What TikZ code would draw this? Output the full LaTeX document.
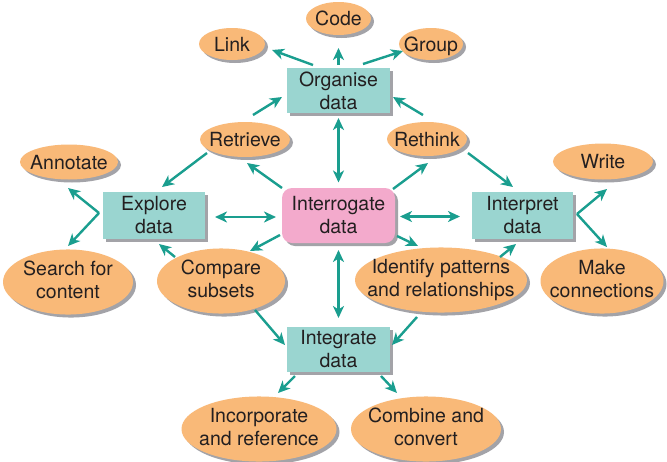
\documentclass[tikz,border=0pt]{standalone}
\usepackage{fontspec}
\setmainfont{TeX Gyre Heros}
\usetikzlibrary{shapes.geometric,shadows,arrows.meta}

\definecolor{ovalfill}{HTML}{F9B978}
\definecolor{boxfill}{HTML}{9AD5D0}
\definecolor{hubfill}{HTML}{F3AACC}
\definecolor{arrowteal}{HTML}{1A9E8F}
\definecolor{inkgray}{HTML}{231F20}
\definecolor{shadowgray}{HTML}{A3A3A8}

% centred lines inside an ellipse whose size is set by hand
\newcommand\ovallines[1]{\makebox[0pt]{\begin{tabular}{@{}c@{}}#1\end{tabular}}}
\newcommand\ovalword[1]{\makebox[0pt]{\raisebox{-0.36em}[0pt][0pt]{#1}}}

\begin{document}
\begin{tikzpicture}[x=1pt,y=-1pt,
  every node/.style={font=\fontsize{19.5}{23}\selectfont, text=inkgray},
  boxshadow/.style={drop shadow={shadow xshift=3pt,shadow yshift=-3pt,fill=shadowgray,opacity=1}},
  oval/.style={ellipse, fill=ovalfill, inner sep=0pt, boxshadow},
  stagebox/.style={rectangle, fill=boxfill, inner sep=0pt, align=center, boxshadow},
  hub/.style={rectangle, rounded corners=10pt, fill=hubfill, inner sep=0pt, align=center, boxshadow},
  arr/.style={draw=arrowteal, line width=2.4pt, -{Stealth[length=12pt,width=11pt,inset=3.5pt]}},
  dblarr/.style={draw=arrowteal, line width=2.4pt, {Stealth[length=12pt,width=11pt,inset=3.5pt]}-{Stealth[length=12pt,width=11pt,inset=3.5pt]}},
]
\useasboundingbox (0,0) rectangle (667,461);
\fill[white] (0,0) rectangle (667,461);

% stages
\node[stagebox, minimum width=103pt, minimum height=45pt] (org) at (338.5,90.5) {Organise\\data};
\node[stagebox, minimum width=102pt, minimum height=47pt] (explore) at (154,215) {Explore\\data};
\node[stagebox, minimum width=101pt, minimum height=47pt] (interpret) at (522.5,215) {Interpret\\data};
\node[stagebox, minimum width=103pt, minimum height=45pt] (integrate) at (338.5,349.5) {Integrate\\data};
\node[hub, minimum width=113pt, minimum height=55pt] (inter) at (338.5,215.5) {Interrogate\\data};

% activities
\node[oval, minimum width=65pt, minimum height=33pt] (code) at (338.5,18.5) {\ovalword{Code}};
\node[oval, minimum width=66pt, minimum height=32pt] (link) at (232,44) {\ovalword{Link}};
\node[oval, minimum width=64pt, minimum height=32pt] (group) at (431,44) {\ovalword{Group}};
\node[oval, minimum width=90pt, minimum height=35pt] (retrieve) at (245,139.5) {\ovalword{Retrieve}};
\node[oval, minimum width=80pt, minimum height=34pt] (rethink) at (427,139) {\ovalword{Rethink}};
\node[oval, minimum width=98pt, minimum height=35pt] (annotate) at (69,162) {\ovalword{Annotate}};
\node[oval, minimum width=100pt, minimum height=36pt] (write) at (603,161.5) {\ovalword{Write}};
\node[oval, minimum width=130pt, minimum height=60pt] (search) at (68,282) {\ovallines{Search for\\content}};
\node[oval, minimum width=128pt, minimum height=60pt] (compare) at (221,281) {\ovallines{Compare\\subsets}};
\node[oval, minimum width=172pt, minimum height=62pt] (identify) at (441,280) {\ovallines{Identify patterns\\and relationships}};
\node[oval, minimum width=123pt, minimum height=62pt] (make) at (602,281) {\ovallines{Make\\connections}};
\node[oval, minimum width=155pt, minimum height=64pt] (incorporate) at (259,429) {\ovallines{Incorporate\\and reference}};
\node[oval, minimum width=150pt, minimum height=64pt] (combine) at (426,429) {\ovallines{Combine and\\convert}};

% organise
\draw[arr] ([shift={(-25.5,-25.5)}]org.center) -- ([shift={(40,6)}]link.center);
\draw[arr] ([shift={(0,-25.5)}]org.center) -- ([shift={(0,29.5)}]code.center);
\draw[arr] ([shift={(24.5,-26.5)}]org.center) -- ([shift={(-28,7)}]group.center);
\draw[arr] ([shift={(8,-24.5)}]retrieve.center) -- ([shift={(-56.5,6.5)}]org.center);
\draw[arr] ([shift={(-4,-24)}]rethink.center) -- ([shift={(54.5,6.5)}]org.center);
\draw[dblarr] ([shift={(0,27.5)}]org.center) -- ([shift={(0,-33)}]inter.center);

% explore
\draw[arr] ([shift={(-38,13.5)}]retrieve.center) -- ([shift={(8,-28)}]explore.center);
\draw[arr] ([shift={(-56.5,-27.5)}]inter.center) -- ([shift={(2,23.5)}]retrieve.center);
\draw[dblarr] ([shift={(61,2)}]explore.center) -- ([shift={(-62.5,1.5)}]inter.center);
\draw[arr] ([shift={(-55,-2)}]explore.center) -- ([shift={(-1,26)}]annotate.center);
\draw[arr] ([shift={(-55,-2)}]explore.center) -- ([shift={(0,-36)}]search.center);
\draw[arr] ([shift={(-58.5,19.5)}]inter.center) -- ([shift={(29,-30)}]compare.center);
\draw[arr] ([shift={(-46,-24)}]compare.center) -- ([shift={(5,29)}]explore.center);

% interpret
\draw[arr] ([shift={(41,14)}]rethink.center) -- ([shift={(-9.5,-28)}]interpret.center);
\draw[arr] ([shift={(54.5,-26.5)}]inter.center) -- ([shift={(1,24)}]rethink.center);
\draw[dblarr] ([shift={(61.5,1)}]inter.center) -- ([shift={(-62.5,1.5)}]interpret.center);
\draw[arr] ([shift={(58.5,20.5)}]inter.center) -- ([shift={(-23,-34)}]identify.center);
\draw[arr] ([shift={(59,-23)}]identify.center) -- ([shift={(-6.5,29)}]interpret.center);
\draw[arr] ([shift={(54.5,-1)}]interpret.center) -- ([shift={(4,27.5)}]write.center);
\draw[arr] ([shift={(54.5,-1)}]interpret.center) -- ([shift={(5,-34)}]make.center);

% integrate
\draw[arr] ([shift={(34,29)}]compare.center) -- ([shift={(-53.5,-4.5)}]integrate.center);
\draw[arr] ([shift={(-24,37)}]identify.center) -- ([shift={(53.5,-4.5)}]integrate.center);
\draw[arr] ([shift={(-43.5,26.5)}]integrate.center) -- ([shift={(19,-36)}]incorporate.center);
\draw[arr] ([shift={(42.5,26.5)}]integrate.center) -- ([shift={(-29,-36)}]combine.center);
\draw[dblarr] ([shift={(0,34.5)}]inter.center) -- ([shift={(0,-31.5)}]integrate.center);
\end{tikzpicture}
\end{document}
